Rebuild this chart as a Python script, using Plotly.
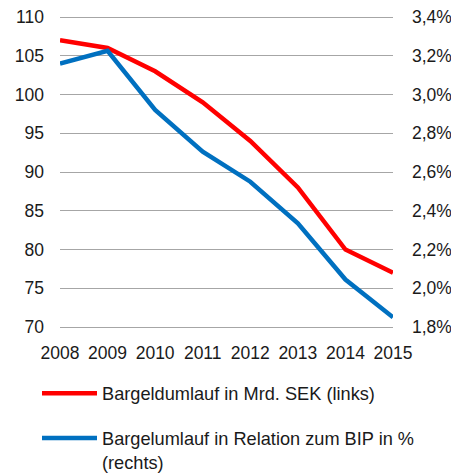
import plotly.graph_objects as go

years = [2008, 2009, 2010, 2011, 2012, 2013, 2014, 2015]
cash_sek = [107, 106, 103, 99, 94, 88, 80, 77]
cash_gdp = [3.16, 3.225, 2.92, 2.705, 2.55, 2.335, 2.045, 1.85]

left_ticks = [70, 75, 80, 85, 90, 95, 100, 105, 110]
right_ticks = [1.8, 2.0, 2.2, 2.4, 2.6, 2.8, 3.0, 3.2, 3.4]
right_labels = ["1,8%", "2,0%", "2,2%", "2,4%", "2,6%", "2,8%", "3,0%", "3,2%", "3,4%"]

name_red = "Bargeldumlauf in Mrd. SEK (links)"
name_blue = "Bargelumlauf in Relation zum BIP in %<br>(rechts)"

FAM = "Liberation Sans, Arial, sans-serif"
tick_font = dict(family=FAM, size=17.5, color="#1a1a1a")
legend_font = dict(family=FAM, size=18.2, color="#1a1a1a")

W, H = 451, 474
PAD_L = 2 * 5 / 38.75      # 2px of padding in left-axis units
PAD_R = 2 * 0.2 / 38.75    # 2px of padding in right-axis units

fig = go.Figure()
fig.add_trace(go.Scatter(x=years, y=cash_sek, mode="lines", name=name_red,
                         legendgroup="a",
                         line=dict(color="#ff0000", width=4.5), yaxis="y"))
fig.add_trace(go.Scatter(x=years, y=cash_gdp, mode="lines", name=name_blue,
                         legendgroup="b",
                         line=dict(color="#0070c0", width=4.5), yaxis="y2"))

fig.update_layout(
    width=W, height=H,
    margin=dict(l=60, r=58, t=15, b=145, autoexpand=False),
    paper_bgcolor="white", plot_bgcolor="white",
    font=tick_font,
    xaxis=dict(range=[2008, 2015], tickvals=years, ticktext=[str(y) for y in years],
               showgrid=False, zeroline=False, showline=False, ticks="",
               ticklabelstandoff=11,
               tickfont=tick_font, tickangle=0, automargin=False,
               ticklabeloverflow="allow"),
    yaxis=dict(range=[70 - PAD_L, 110 + PAD_L], tickvals=left_ticks, showgrid=True,
               gridcolor="#a6a6a6", gridwidth=1, zeroline=False, showline=False,
               ticks="", ticklabelstandoff=15,
               tickfont=tick_font, automargin=False, ticklabeloverflow="allow"),
    yaxis2=dict(range=[1.8 - PAD_R, 3.4 + PAD_R], tickvals=right_ticks,
                ticktext=right_labels,
                overlaying="y", side="right", showgrid=False, zeroline=False,
                showline=False, ticks="", ticklabelstandoff=18,
                tickfont=tick_font, automargin=False, ticklabeloverflow="allow"),
    showlegend=True,
    legend=dict(xref="container", yref="container", x=37 / W, y=1 - 375 / H,
                xanchor="left", yanchor="top", orientation="v",
                font=legend_font, tracegroupgap=18, itemwidth=55, valign="top",
                bgcolor="rgba(0,0,0,0)"),
)

fig.write_html(
    "out.html",
    config={"displayModeBar": False},
    post_script="document.body.style.margin='0';document.body.style.overflow='hidden';",
)
